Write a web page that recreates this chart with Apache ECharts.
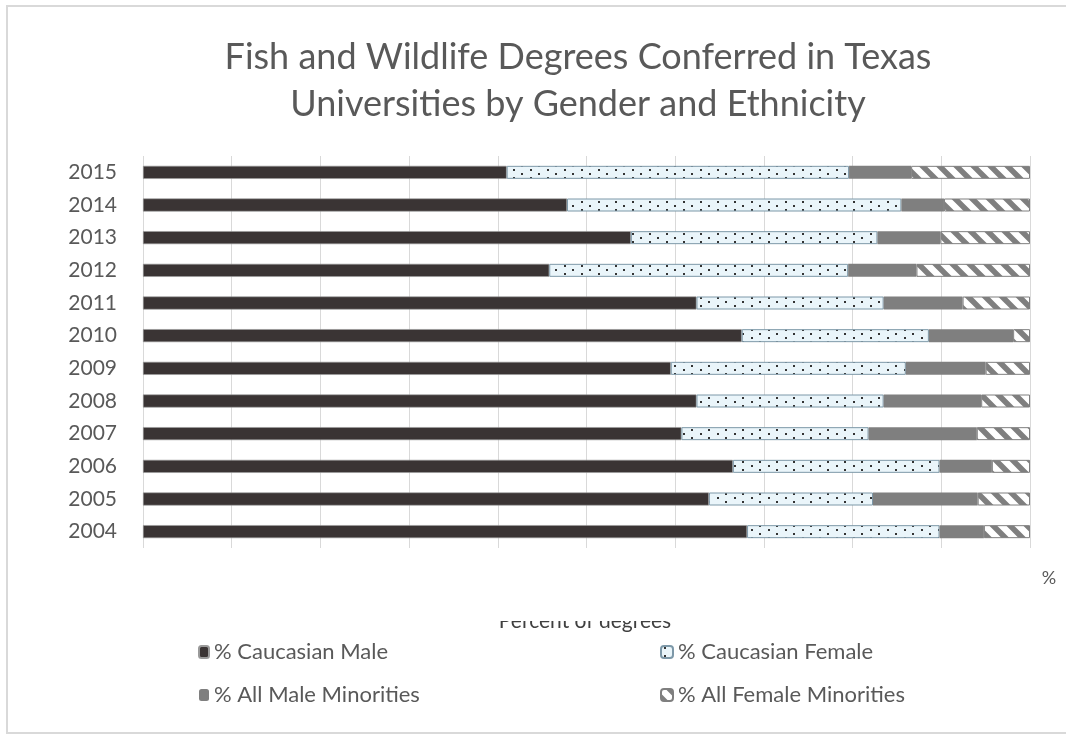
<!DOCTYPE html>
<html>
<head>
<meta charset="utf-8">
<script src="https://cdn.jsdelivr.net/npm/echarts@6/dist/echarts.min.js"></script>
<style>
  html, body { margin: 0; padding: 0; background: #fff; }
  #main { width: 1066px; height: 735px; }
</style>
</head>
<body>
<div id="main"></div>
<script>
// years, bottom to top
var years = ['2004', '2005', '2006', '2007', '2008', '2009', '2010', '2011', '2012', '2013', '2014', '2015'];
var caucasianMale = [68.1, 63.8, 66.5, 60.7, 62.4, 59.5, 67.5, 62.4, 45.8, 55.0, 47.8, 41.0];
var caucasianFemale = [21.7, 18.5, 23.3, 21.1, 21.1, 26.5, 21.1, 21.1, 33.7, 27.8, 37.7, 38.6];
var maleMinorities = [5.0, 11.8, 5.9, 12.2, 11.0, 9.0, 9.5, 8.9, 7.7, 7.1, 4.8, 7.0];
var femaleMinorities = [5.2, 5.9, 4.3, 6.0, 5.5, 5.0, 1.9, 7.6, 12.8, 10.1, 9.7, 13.4];
var seriesNames = ['% Caucasian Male', '% Caucasian Female', '% All Male Minorities', '% All Female Minorities'];

// dotted fill for caucasian female
function dotPattern() {
    var c = document.createElement('canvas');
    c.width = 17; c.height = 8;
    var ctx = c.getContext('2d');
    ctx.fillStyle = '#eaf5fa';
    ctx.fillRect(0, 0, 17, 8);
    ctx.fillStyle = '#333';
    ctx.fillRect(3, 1, 2, 2);
    ctx.fillRect(11, 5, 2, 2);
    return c;
}

// diagonal stripes for female minorities
function stripePattern() {
    var s = 17;
    var c = document.createElement('canvas');
    c.width = s; c.height = s;
    var ctx = c.getContext('2d');
    ctx.fillStyle = '#7f7f7f';
    ctx.fillRect(0, 0, s, s);
    ctx.strokeStyle = '#fff';
    ctx.lineWidth = 6.5;
    ctx.beginPath();
    ctx.moveTo(-s, 0); ctx.lineTo(s, 2 * s);
    ctx.moveTo(0, 0); ctx.lineTo(s, s);
    ctx.moveTo(0, -s); ctx.lineTo(2 * s, s);
    ctx.stroke();
    return c;
}

var chart = echarts.init(document.getElementById('main'));
var txt = '#595959';
var font = 'Lato, "Open Sans", sans-serif';

function bar(name, data, itemStyle) {
    return {
        name: name,
        type: 'bar',
        stack: 'total',
        barWidth: 13,
        data: data,
        itemStyle: itemStyle,
        emphasis: { disabled: true }
    };
}

var option = {
    backgroundColor: '#fff',
    animation: false,
    title: {
        text: 'Fish and Wildlife Degrees Conferred in Texas\nUniversities by Gender and Ethnicity',
        left: 573,
        textAlign: 'center',
        top: 29,
        textStyle: { fontFamily: font, fontWeight: 'normal', fontSize: 36, color: txt, lineHeight: 47 }
    },
    legend: [{
        data: [seriesNames[0], seriesNames[2]],
        orient: 'vertical',
        left: 193,
        top: 636,
        itemWidth: 10, itemHeight: 12, itemGap: 21,
        textStyle: { fontFamily: font, fontSize: 22, color: txt }
    }, {
        data: [seriesNames[1], seriesNames[3]],
        orient: 'vertical',
        left: 655,
        top: 636,
        itemWidth: 12, itemHeight: 12, itemGap: 21,
        textStyle: { fontFamily: font, fontSize: 22, color: txt }
    }],
    grid: { left: 143, right: 36, top: 156, bottom: 187 },
    xAxis: {
        type: 'value',
        min: 0, max: 100, interval: 10,
        axisLabel: { show: false },
        axisLine: { show: false },
        axisTick: { show: false },
        splitLine: { lineStyle: { color: '#d9d9d9', width: 1 } }
    },
    yAxis: {
        type: 'category',
        data: years,
        axisLine: { show: false },
        axisTick: { show: false },
        axisLabel: { fontFamily: font, fontSize: 21, color: txt, margin: 26 }
    },
    graphic: [
        { type: 'rect', shape: { x: 7, y: 6, width: 1100, height: 727 }, style: { fill: 'none', stroke: '#d9d9d9', lineWidth: 2 }, z: 0 },
        { type: 'text', x: 1049, y: 578, style: { text: '%', fill: txt, font: '18px ' + font, textAlign: 'center', textVerticalAlign: 'middle' } },
        { type: 'text', x: 585, y: 621, z: 10, style: { text: 'Percent of degrees', fill: '#404040', font: '21px ' + font, textAlign: 'center', textVerticalAlign: 'middle' } },
        // the lower legend area hides the top of the axis title, as in the reference
        { type: 'rect', shape: { x: 440, y: 596, width: 300, height: 25 }, style: { fill: '#fff' }, z: 20 }
    ],
    series: [
        bar(seriesNames[0], caucasianMale, { color: '#3a3434', borderColor: '#9a9a9a', borderWidth: 0.6 }),
        bar(seriesNames[1], caucasianFemale, { color: { image: dotPattern(), repeat: 'repeat' }, borderColor: '#7d98a8', borderWidth: 1 }),
        bar(seriesNames[2], maleMinorities, { color: '#7f7f7f' }),
        bar(seriesNames[3], femaleMinorities, { color: { image: stripePattern(), repeat: 'repeat' }, borderColor: '#7f7f7f', borderWidth: 1 })
    ]
};

chart.setOption(option);
</script>
</body>
</html>
